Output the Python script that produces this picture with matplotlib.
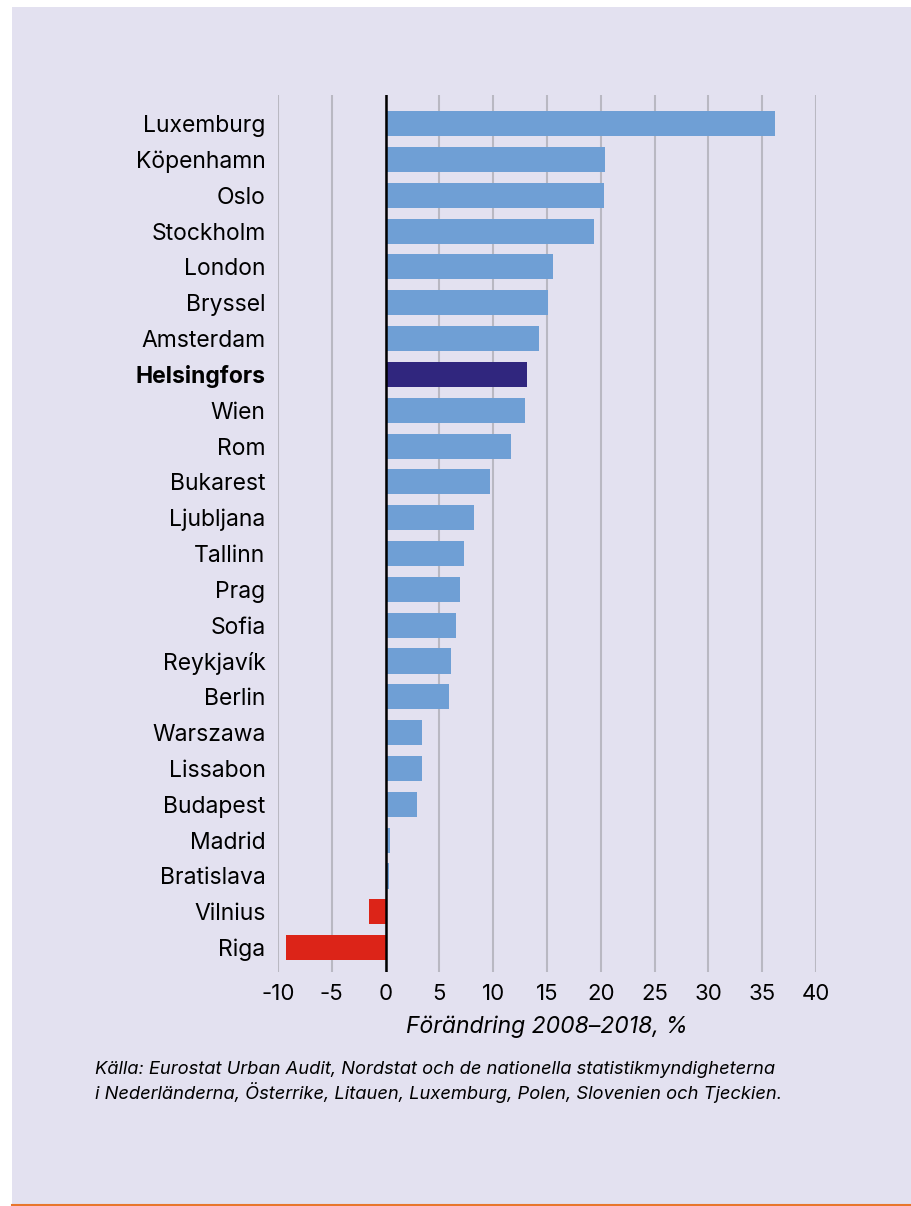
import matplotlib.pyplot as plt
from matplotlib.patches import Rectangle
from matplotlib.lines import Line2D

cities = ['Luxemburg', 'Köpenhamn', 'Oslo', 'Stockholm', 'London', 'Bryssel',
          'Amsterdam', 'Helsingfors', 'Wien', 'Rom', 'Bukarest', 'Ljubljana',
          'Tallinn', 'Prag', 'Sofia', 'Reykjavík', 'Berlin', 'Warszawa',
          'Lissabon', 'Budapest', 'Madrid', 'Bratislava', 'Vilnius', 'Riga']
change = [36.2, 20.4, 20.3, 19.4, 15.6, 15.1, 14.3, 13.1, 13.0, 11.7, 9.7, 8.2,
          7.3, 6.9, 6.5, 6.1, 5.9, 3.4, 3.4, 2.9, 0.4, 0.3, -1.5, -9.3]
xticks = [-10, -5, 0, 5, 10, 15, 20, 25, 30, 35, 40]
highlight = 'Helsingfors'

BG = '#e3e1f0'
BLUE = '#6f9fd5'
DARK = '#30267e'
RED = '#dc2418'

plt.rcParams['font.family'] = ['Inter', 'DejaVu Sans']

W, H = 912, 1206
fig = plt.figure(figsize=(W / 100, H / 100), dpi=100, facecolor='white')

# lavender panel + orange rule at the bottom
fig.patches.append(Rectangle((12 / W, 2 / H), 1 - 12 / W, 1 - 9 / H,
                             transform=fig.transFigure, facecolor=BG,
                             edgecolor='none', zorder=-10))
fig.lines.append(Line2D([12 / W, 1], [1.5 / H, 1.5 / H], transform=fig.transFigure,
                        color='#e8762c', lw=1.5))

ax = fig.add_axes([278 / W, 1 - 972 / H, (816 - 278) / W, (972 - 95) / H])
ax.set_facecolor('none')

n = len(cities)
ypos = list(range(n))
colors = []
for c, v in zip(cities, change):
    if c == highlight:
        colors.append(DARK)
    elif v < 0:
        colors.append(RED)
    else:
        colors.append(BLUE)

ax.barh(ypos, change, height=0.7, color=colors, zorder=2)
ax.set_ylim(n - 1 + 0.68, -0.80)
ax.set_xlim(-10, 40)

for t in xticks:
    ax.axvline(t, color='#b9b8c2', lw=1.5, zorder=1)
ax.axvline(0, color='black', lw=1.8, zorder=3)

ax.set_xticks(xticks)
ax.set_xticklabels([str(t) for t in xticks], fontsize=16)
ax.set_yticks(ypos)
ax.set_yticklabels(cities, fontsize=16.5)
for lbl in ax.get_yticklabels():
    if lbl.get_text() == highlight:
        lbl.set_fontweight('bold')
ax.tick_params(axis='both', length=0)
ax.tick_params(axis='x', pad=9)
ax.tick_params(axis='y', pad=9)
for s in ax.spines.values():
    s.set_visible(False)

ax.set_xlabel('Förändring 2008–2018, %', fontsize=16.5, style='italic', labelpad=8)

fig.text(95 / W, 1 - 1082 / H,
         'Källa: Eurostat Urban Audit, Nordstat och de nationella statistikmyndigheterna\n'
         'i Nederländerna, Österrike, Litauen, Luxemburg, Polen, Slovenien och Tjeckien.',
         fontsize=13.2, style='italic', va='center', ha='left', linespacing=1.25)

fig.savefig('out.png', dpi=100, facecolor='white')
